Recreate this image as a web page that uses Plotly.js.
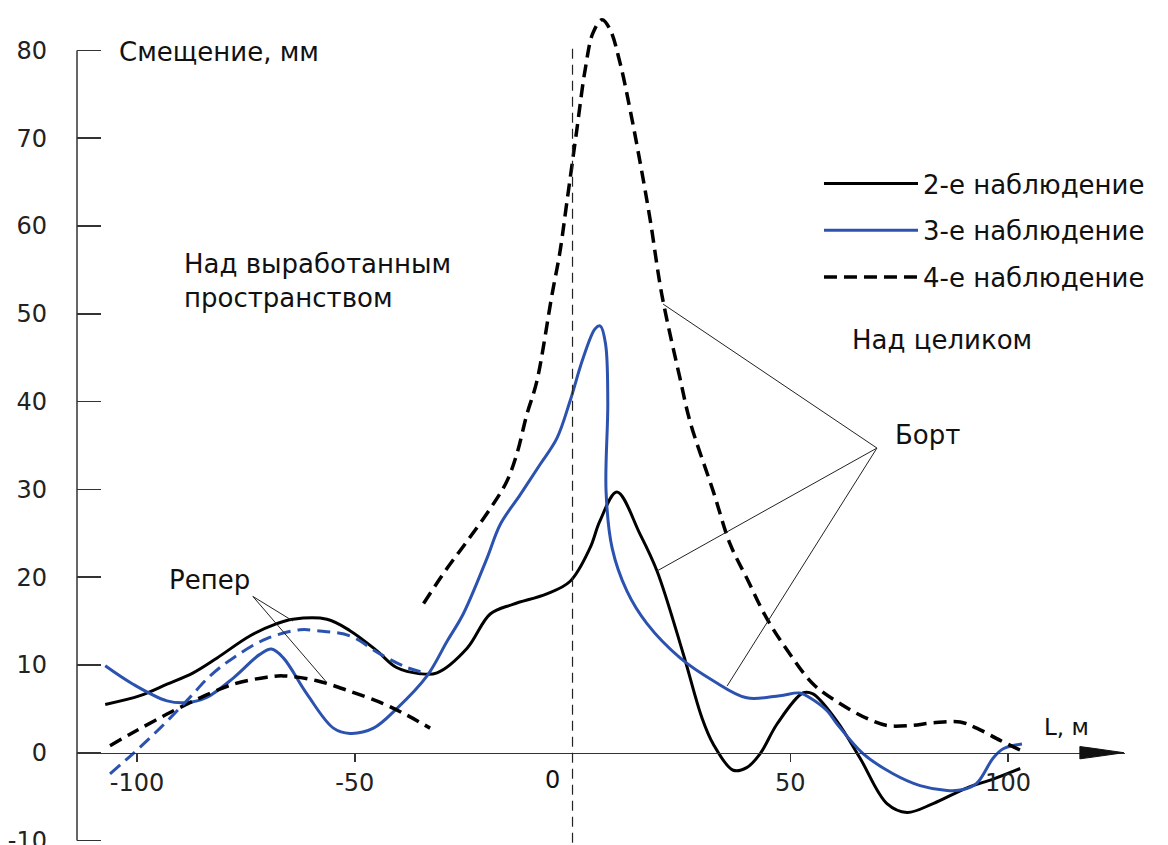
<!DOCTYPE html>
<html>
<head>
<meta charset="utf-8">
<script src="https://cdn.plot.ly/plotly-3.0.1.min.js"></script>
<style>html,body{margin:0;padding:0;background:#fff;}#chart{width:1168px;height:845px;}</style>
</head>
<body>
<div id="chart"></div>
<script>
// ---- data ----
const obs2X = [-107.3, -99.3, -93.1, -87.1, -81.6, -74.1, -67.9, -64.2, -56.4, -51.1, -44.9, -40.4, -35.0, -31.1, -24.2, -18.9, -13.7, -5.9, -0.6, 4.0, 6.3, 10.2, 15.5, 19.4, 25.4, 29.7, 32.3, 36.9, 40.0, 43.1, 47.0, 52.9, 55.2, 60.7, 66.0, 72.2, 76.8, 82.8, 90.6, 96.6, 102.8];
const obs2Y = [5.5, 6.5, 7.8, 9.1, 10.8, 13.3, 14.7, 15.2, 15.2, 13.9, 11.6, 9.7, 9.0, 9.1, 11.9, 15.8, 16.9, 18.1, 19.5, 23.3, 26.4, 29.7, 24.9, 20.7, 11.3, 4.0, 1.0, -2.0, -1.7, -0.1, 3.3, 6.8, 6.7, 3.6, -0.6, -5.8, -6.8, -5.8, -4.0, -3.0, -1.8];

const obs3X = [-107.3, -100.9, -93.1, -88.6, -84.0, -77.9, -71.8, -69.1, -66.4, -61.0, -54.9, -51.1, -45.7, -40.4, -33.4, -28.8, -25.1, -19.6, -16.6, -12.0, -7.5, -3.6, -0.6, 2.4, 5.2, 6.4, 7.6, 8.1, 7.7, 9.1, 12.5, 17.1, 24.7, 32.3, 40.0, 47.6, 52.2, 54.5, 58.4, 60.7, 66.7, 73.6, 79.8, 86.0, 89.7, 92.8, 96.6, 98.9, 103.2];
const obs3Y = [9.9, 7.8, 5.9, 5.7, 6.3, 8.5, 11.2, 11.8, 10.8, 6.7, 2.8, 2.2, 2.8, 5.0, 8.75, 12.7, 15.8, 22.2, 26.0, 29.4, 32.8, 35.8, 40.0, 44.9, 48.3, 48.6, 46.5, 40.0, 29.8, 23.3, 18.4, 14.7, 10.8, 8.2, 6.25, 6.5, 6.8, 6.25, 4.8, 3.3, -0.1, -2.4, -3.75, -4.3, -4.2, -3.5, -0.6, 0.45, 1.0];

const obs4X = [-106.2, -100.9, -93.1, -85.5, -77.9, -70.2, -66.4, -58.7, -51.1, -43.5, -38.5, -32.7, null,
  -34.2, -28.8, -24.2, -18.9, -15.1, -12.8, -10.5, -8.2, -4.7, -2.9, -1.3, 1.0, 2.9, 4.7, 6.8, 8.6, 10.9, 13.2, 15.5, 17.8, 20.5, 24.7, 27.0, 32.3, 36.2, 40.0, 44.6, 49.9, 55.3, 61.4, 67.6, 72.2, 77.5, 82.8, 89.0, 92.8, 98.2, 103.2];
const obs4Y = [0.8, 2.3, 4.4, 6.25, 7.8, 8.6, 8.75, 8.2, 7.0, 5.6, 4.4, 2.8, null,
  17.0, 21.0, 24.1, 27.8, 30.9, 34.0, 38.5, 42.3, 52.2, 57.0, 62.7, 71.0, 77.8, 82.0, 83.5, 82.4, 78.6, 73.3, 67.3, 60.8, 52.2, 42.6, 37.7, 29.8, 23.75, 19.9, 15.3, 11.25, 7.8, 5.6, 3.9, 3.1, 3.1, 3.4, 3.5, 2.8, 1.4, 0.2];

const reperX = [-106.2, -100.9, -94.7, -88.6, -83.2, -77.9, -70.2, -62.6, -58.7, -51.1, -44.2, -38.0, -33.0];
const reperY = [-2.4, -0.1, 2.8, 5.9, 8.75, 10.8, 13.0, 14.0, 13.9, 13.3, 11.25, 9.7, 9.0];

const seriesNames = ['2-е наблюдение', '3-е наблюдение', '4-е наблюдение'];
const xTickVals = [-100, -50, 50, 100];
const yTickVals = [-10, 0, 10, 20, 30, 40, 50, 60, 70, 80];

// leader lines (apex -> target)
const reperApex = [-73.4, 17.8];
const reperTargets = [[-64.2, 15.0], [-56.6, 8.1]];
const bortApex = [69.9, 34.7];
const bortTargets = [[20.8, 51.1], [19.4, 20.7], [35.5, 7.6]];

// ---- drawing ----
const BLUE = '#2c52b0';
const FONT = 'DejaVu Sans, Arial, sans-serif';

const traces = [
  {x: obs2X, y: obs2Y, name: seriesNames[0], mode: 'lines', legendgroup: 'a',
   line: {color: '#000', width: 3, shape: 'spline', smoothing: 1}},
  {x: obs3X, y: obs3Y, name: seriesNames[1], mode: 'lines', legendgroup: 'b',
   line: {color: BLUE, width: 3, shape: 'spline', smoothing: 1}},
  {x: obs4X, y: obs4Y, name: seriesNames[2], mode: 'lines', legendgroup: 'c', connectgaps: false,
   line: {color: '#000', width: 3.5, dash: '13px,7px', shape: 'spline', smoothing: 1}},
  {x: reperX, y: reperY, name: 'Репер', mode: 'lines', showlegend: false,
   line: {color: BLUE, width: 3, dash: '13px,7px', shape: 'spline', smoothing: 1}}
];

const shapes = [];
// y axis line from -10 to 80
shapes.push({type: 'line', xref: 'paper', yref: 'y', x0: 0, x1: 0, y0: -10, y1: 80,
  line: {color: '#333', width: 1.5}});
// vertical dashed line at L = 0
shapes.push({type: 'line', xref: 'x', yref: 'y', x0: 0, x1: 0, y0: 80.2, y1: -10.4,
  line: {color: '#222', width: 1.2, dash: '10px,6px'}});
// arrow head of the L axis
shapes.push({type: 'path', xref: 'x', yref: 'y',
  path: 'M 116.5,0.7 L 119.5,0.5 L 126.6,0 L 119.5,-0.5 L 116.5,-0.7 Z',
  fillcolor: '#111', line: {color: '#111', width: 1}});
reperTargets.forEach(t => shapes.push({type: 'line', xref: 'x', yref: 'y',
  x0: reperApex[0], y0: reperApex[1], x1: t[0], y1: t[1], line: {color: '#222', width: 1}}));
bortTargets.forEach(t => shapes.push({type: 'line', xref: 'x', yref: 'y',
  x0: bortApex[0], y0: bortApex[1], x1: t[0], y1: t[1], line: {color: '#222', width: 1}}));

const txt = (text, x, y, size, anchor) => ({text: text, x: x, y: y, xref: 'x', yref: 'y',
  showarrow: false, xanchor: anchor || 'left', yanchor: 'middle', align: 'left',
  font: {family: FONT, size: size, color: '#111'}});

const annotations = [
  txt('Смещение, мм', -104.6, 79.8, 26),
  txt('Над выработанным<br>пространством', -89.7, 53.7, 26),
  txt('Над целиком', 63.7, 47.0, 26),
  txt('Борт', 73.6, 36.2, 26),
  txt('Репер', -93.1, 19.7, 26),
  txt('L, м', 107.8, 2.9, 23),
  txt('0', -4.5, -3.1, 24, 'center')
];

const layout = {
  width: 1168, height: 845,
  margin: {l: 77, r: 43, t: 10, b: 1},
  paper_bgcolor: '#fff', plot_bgcolor: '#fff',
  font: {family: FONT, color: '#222'},
  xaxis: {range: [-113.78, 126.86], anchor: 'free', position: 0.1095,
    showline: true, linecolor: '#333', linewidth: 1.5, zeroline: false, showgrid: false,
    ticks: 'outside', ticklen: 8, tickwidth: 1.5, tickcolor: '#333',
    tickvals: xTickVals, ticktext: xTickVals.map(String),
    tickfont: {family: FONT, size: 24, color: '#222'}, ticklabelstandoff: 0},
  yaxis: {range: [-10.4, 84.6], showline: false, zeroline: false, showgrid: false,
    ticks: 'inside', ticklen: 24, tickwidth: 1.5, tickcolor: '#333',
    tickvals: yTickVals, ticktext: yTickVals.map(String), ticklabeloverflow: 'allow',
    tickfont: {family: FONT, size: 24, color: '#222'}, ticklabelstandoff: 29},
  showlegend: true,
  legend: {x: 0.708, y: 0.82, xanchor: 'left', yanchor: 'top', bgcolor: 'rgba(0,0,0,0)',
    font: {family: FONT, size: 26, color: '#111'}, itemwidth: 94,
    traceorder: 'grouped', tracegroupgap: 10},
  shapes: shapes,
  annotations: annotations
};

Plotly.newPlot('chart', traces, layout, {displayModeBar: false, staticPlot: true});
</script>
</body>
</html>
